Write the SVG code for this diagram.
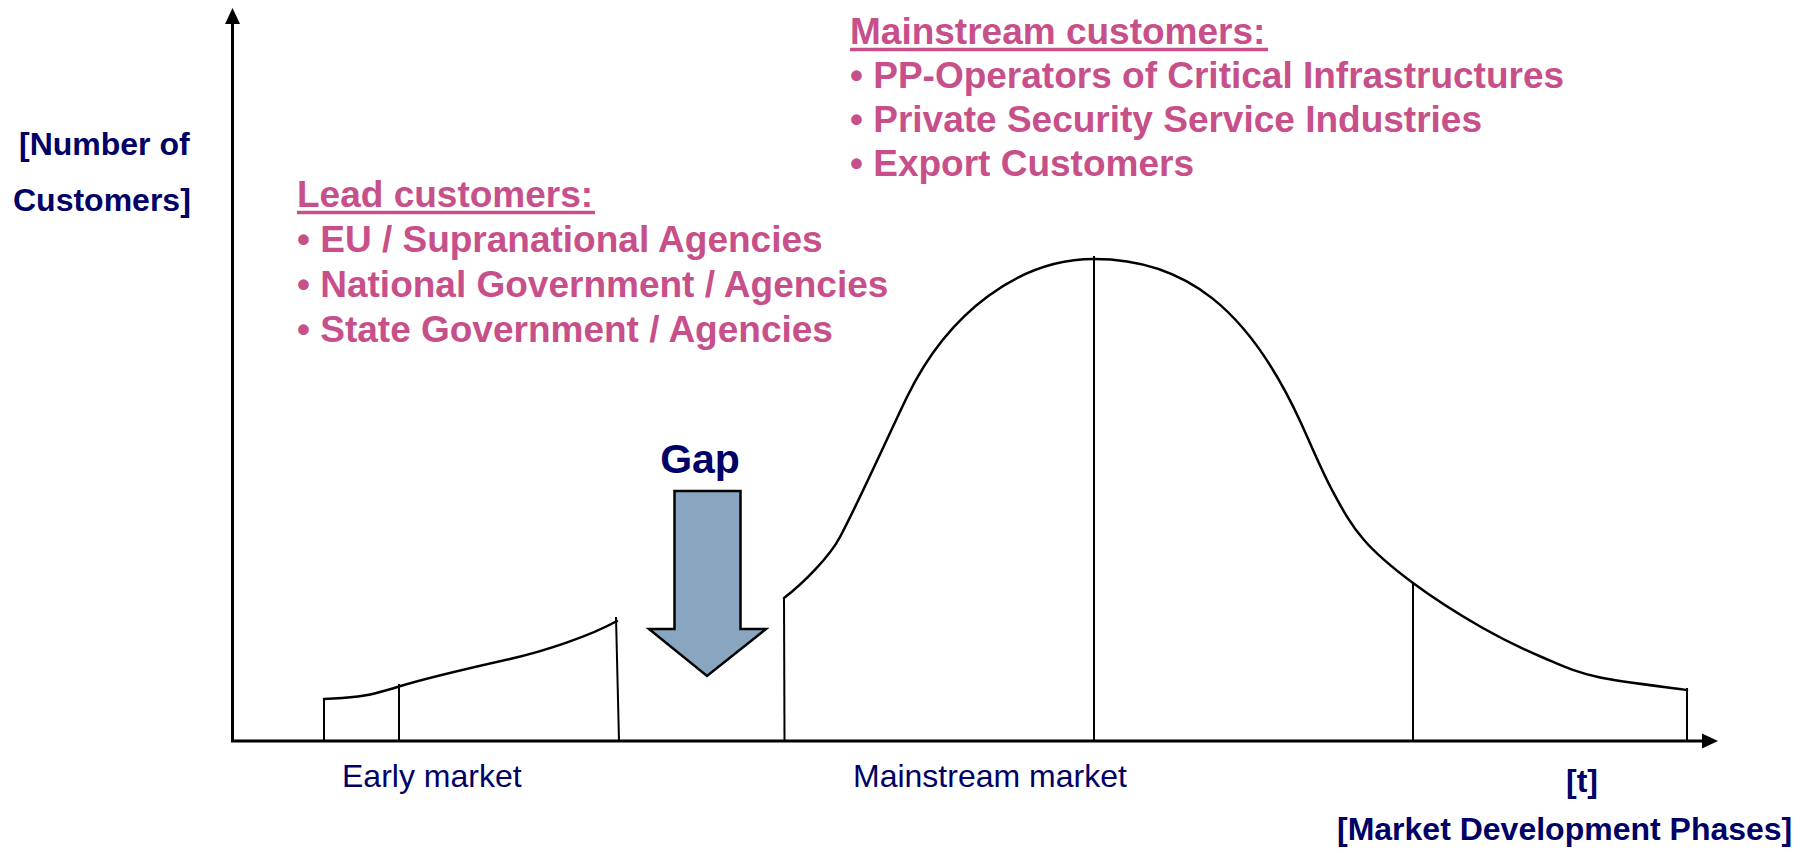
<svg xmlns="http://www.w3.org/2000/svg" width="1802" height="853" viewBox="0 0 1802 853">
<style>
.pink{font-family:"Liberation Sans",Arial,sans-serif;font-weight:bold;font-size:37px;fill:#C74F8A}
.navyb{font-family:"Liberation Sans",Arial,sans-serif;font-weight:bold;font-size:32px;fill:#000066}
.navy{font-family:"Liberation Sans",Arial,sans-serif;font-size:32px;fill:#000066}
.axis{stroke:#000;stroke-width:3;fill:none}
.curve{stroke:#000;stroke-width:2.5;fill:none;stroke-linejoin:round;stroke-linecap:round}
.vline{stroke:#000;stroke-width:2;fill:none}
.ul{stroke:#C74F8A;stroke-width:3.5}
</style>
<rect width="1802" height="853" fill="#fff"/>
<g id="axes">
<line class="axis" x1="232.5" y1="742" x2="232.5" y2="22"/>
<polygon points="232.5,8 225,24 240,24" fill="#000"/>
<line class="axis" x1="231" y1="741" x2="1704" y2="741"/>
<polygon points="1718,741 1702,733.5 1702,748.5" fill="#000"/>
</g>
<g id="y-label">
<text class="navyb" x="19" y="155">[Number of</text>
<text class="navyb" x="13" y="211">Customers]</text>
</g>
<g id="lead-customers">
<text class="pink" x="297" y="207">Lead customers:</text>
<line class="ul" x1="297" y1="212.5" x2="595" y2="212.5"/>
<text class="pink" x="297" y="252">• EU / Supranational Agencies</text>
<text class="pink" x="297" y="297">• National Government / Agencies</text>
<text class="pink" x="297" y="342">• State Government / Agencies</text>
</g>
<g id="mainstream-customers">
<text class="pink" x="850" y="44">Mainstream customers:</text>
<line class="ul" x1="850" y1="49.5" x2="1268" y2="49.5"/>
<text class="pink" x="850" y="88">• PP-Operators of Critical Infrastructures</text>
<text class="pink" x="850" y="132">• Private Security Service Industries</text>
<text class="pink" x="850" y="176">• Export Customers</text>
</g>
<g id="early-market-curve">
<path class="curve" d="M324,699 C350,698 368,696 380,692 C387,690 392,689 399,686.5 C430,677 470,668 510,659 C545,651 590,636 617,621"/>
<line class="vline" x1="324" y1="699" x2="324" y2="741"/>
<line class="vline" x1="399" y1="684" x2="399" y2="741"/>
<line class="vline" x1="616" y1="617" x2="619" y2="741"/>
</g>
<g id="gap">
<text x="700" y="473" text-anchor="middle" style="font-family:'Liberation Sans',Arial,sans-serif;font-weight:bold;font-size:41px;fill:#000066">Gap</text>
<polygon points="674.5,491 740.5,491 740.5,629 766,629 707,676 649,629 674.5,629" fill="#88A6BF" stroke="#000" stroke-width="2.5" stroke-linejoin="miter"/>
</g>
<g id="mainstream-curve">
<path class="curve" d="M784,598 C803.8,582.8 829.7,556.5 840,537 C861,497.2 887.4,437.5 907,397 C948.4,311.5 1020,259 1094,259 C1185,259 1248.8,308.7 1301,423 C1310.7,444.2 1321.5,470.5 1332,490 C1342.5,509.5 1350.5,524.5 1364,540 C1377.5,555.5 1393.5,568.5 1413,583 C1432.5,597.5 1459.2,614.5 1481,627 C1502.8,639.5 1524.5,649.7 1544,658 C1563.5,666.3 1574,671.7 1598,677 C1622,682.3 1673,687.8 1687,690"/>
<line class="vline" x1="784" y1="597" x2="784.5" y2="741"/>
<line class="vline" x1="1094" y1="256" x2="1094" y2="741"/>
<line class="vline" x1="1413" y1="582" x2="1413" y2="741"/>
<line class="vline" x1="1687" y1="688" x2="1687" y2="741"/>
</g>
<g id="x-labels">
<text class="navy" x="342" y="787">Early market</text>
<text class="navy" x="853" y="787">Mainstream market</text>
<text class="navyb" x="1566" y="792">[t]</text>
<text class="navyb" x="1337" y="840">[Market Development Phases]</text>
</g>
</svg>
